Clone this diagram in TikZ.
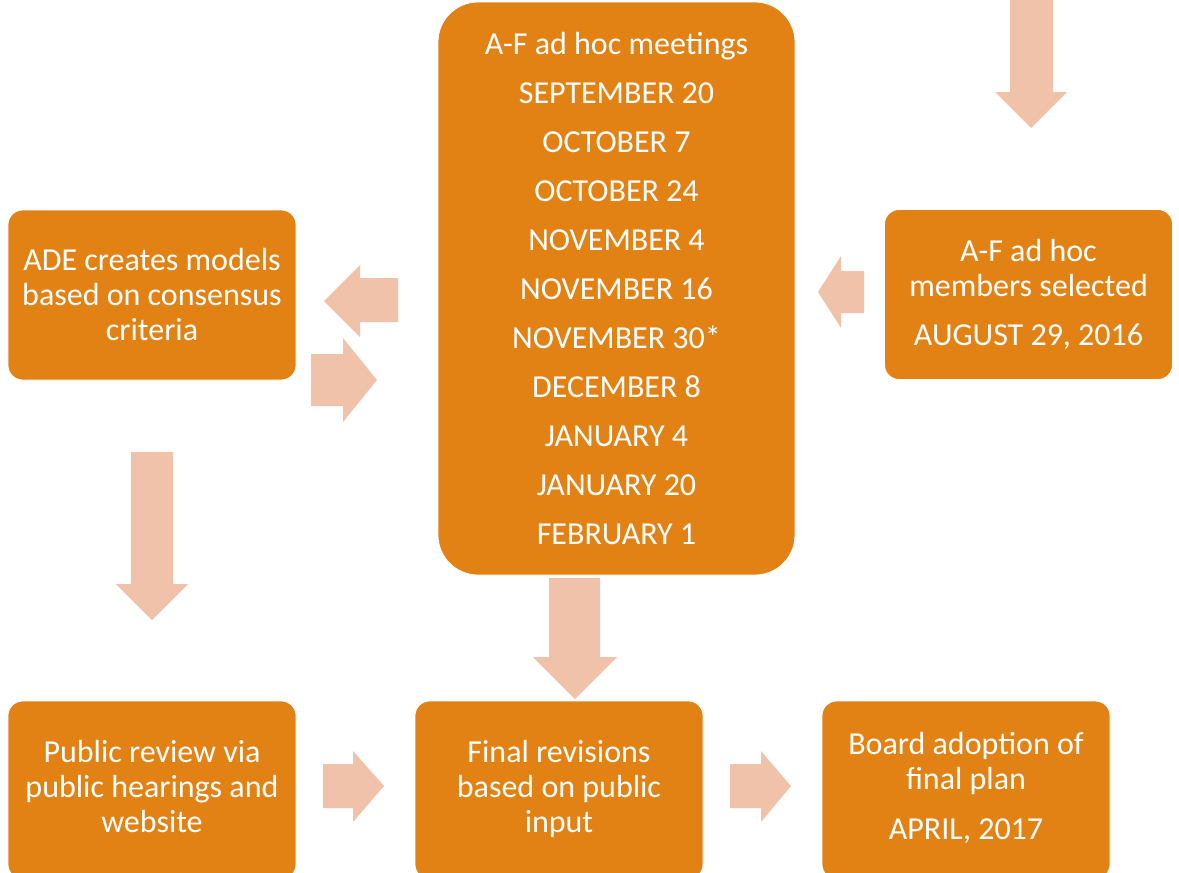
\documentclass[tikz,border=0pt]{standalone}
\usepackage{fontspec}
\setmainfont{Carlito}
\definecolor{boxorange}{RGB}{227,130,20}
\definecolor{arrowpeach}{RGB}{240,194,170}
\tikzset{
  stepbox/.style={rounded corners=11pt, fill=boxorange, draw=white, line width=0.6pt,
    text=white, align=center, inner sep=0pt,
    font=\fontsize{24}{26.25}\selectfont,
    minimum width=216pt, minimum height=127.5pt},
  lowbox/.style={stepbox, minimum height=133.5pt, text depth=6pt},
  fatarrow/.style={fill=arrowpeach}
}

\begin{document}
\begin{tikzpicture}[x=0.75pt,y=-0.75pt]
        \useasboundingbox (0,0) rectangle (1179,872);

        % boxes
        \node[stepbox] (ade) at (152, 295) {ADE creates models\\based on consensus\\criteria};
        \node[stepbox, rounded corners=30pt, minimum width=267.75pt, minimum height=429.75pt,
              font=\fontsize{24}{36.75}\selectfont] (mtg) at (616.5, 288.5)
              {A-F ad hoc meetings\\SEPTEMBER 20\\OCTOBER 7\\OCTOBER 24\\NOVEMBER 4\\NOVEMBER 16\\NOVEMBER 30*\\DECEMBER 8\\JANUARY 4\\JANUARY 20\\FEBRUARY 1};
        \node[stepbox] (sel) at (1028.5, 294.5) {A-F ad hoc\\members selected\\[10pt]AUGUST 29, 2016};
        \node[lowbox] (pub) at (152, 790) {Public review via\\public hearings and\\website};
        \node[lowbox] (rev) at (559, 790) {Final revisions\\based on public\\input};
        \node[lowbox] (brd) at (966, 790) {Board adoption of\\final plan\\[11pt]APRIL, 2017};

        % block arrows
        \fill[fatarrow] (1010,-5) -- (1053,-5) -- (1053,92) -- (1067,92) -- (1031,128)
                        -- (995,92) -- (1010,92) -- cycle;
        \fill[fatarrow] (398,278) -- (360,278) -- (360,265) -- (324,301) -- (360,337)
                        -- (360,322) -- (398,322) -- cycle;
        \fill[fatarrow] (311,354) -- (343,354) -- (343,338) -- (377,380) -- (343,422)
                        -- (343,406) -- (311,406) -- cycle;
        \fill[fatarrow] (864,271) -- (841,271) -- (841,256) -- (818,292) -- (841,328)
                        -- (841,313) -- (864,313) -- cycle;
        \fill[fatarrow] (131,452) -- (173,452) -- (173,584) -- (188,584) -- (152,620)
                        -- (116,584) -- (131,584) -- cycle;
        \fill[fatarrow] (549,578) -- (600,578) -- (600,657) -- (617,657) -- (575,699)
                        -- (533,657) -- (549,657) -- cycle;
        \fill[fatarrow] (323,764) -- (353,764) -- (353,751) -- (384,786) -- (353,822)
                        -- (353,808) -- (323,808) -- cycle;
        \fill[fatarrow] (730,764) -- (761,764) -- (761,751) -- (791,786) -- (761,822)
                        -- (761,808) -- (730,808) -- cycle;

    \end{tikzpicture}
\end{document}
